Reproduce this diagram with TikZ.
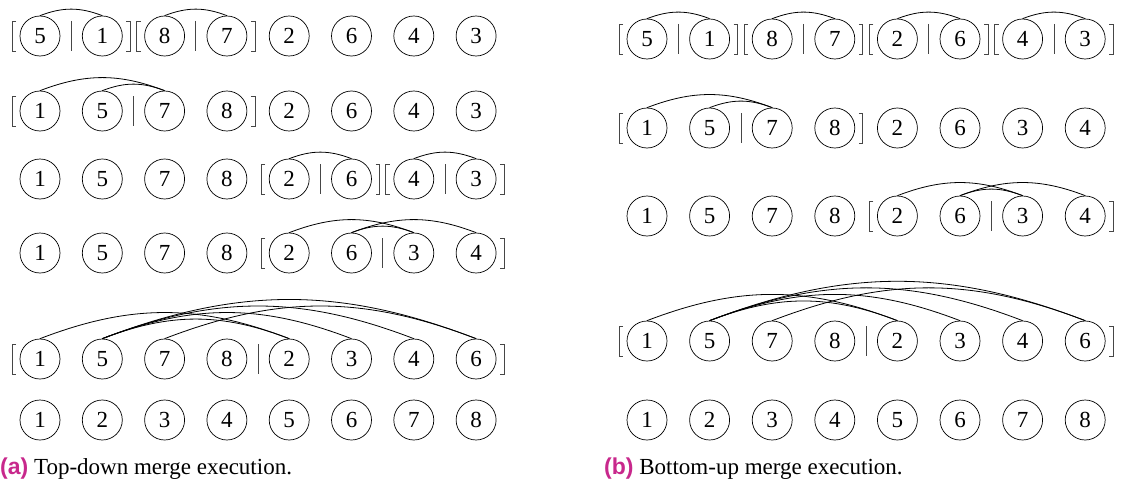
\documentclass[tikz,border=0pt]{standalone}
\usepackage{fontspec}
\setmainfont{Liberation Serif}
\setsansfont{Liberation Sans}
\usetikzlibrary{calc}
\definecolor{capmag}{RGB}{200,40,140}
\definecolor{brkgray}{RGB}{70,70,70}
\tikzset{
  cnode/.style={circle,draw,line width=0.7pt,minimum size=40pt,inner sep=0pt,font=\fontsize{23}{27}\selectfont},
  cmparc/.style={line width=0.8pt,bend left=21},
  brk/.style={draw=brkgray,line width=0.8pt},
  captext/.style={anchor=base west,inner sep=0pt,font=\fontsize{23}{27}\selectfont}
}
\newcommand\LBr[1]{\draw[brk] ($(#1.center)+(-24,-15)$) -- ++(-4,0) -- ++(0,30) -- ++(4,0);}
\newcommand\RBr[1]{\draw[brk] ($(#1.center)+(24,-15)$) -- ++(4,0) -- ++(0,30) -- ++(-4,0);}
\newcommand\Bar[2]{\draw[brk] ($(#1)!0.5!(#2)+(0,-15)$) -- ++(0,30);}
\newcommand\Row[5]{%
  \foreach \v [count=\i from 0] in {#5}
    \node[cnode] (#1-\i) at ({#2+#3*\i},#4) {\v};}
\begin{document}
\begin{tikzpicture}[x=1pt,y=-1pt]
\useasboundingbox (0,0) rectangle (1121,487);
% ---------- left panel ----------
\Row{La}{40}{62.3}{36}{5,1,8,7,2,6,4,3}
\Row{Lb}{40}{62.3}{111}{1,5,7,8,2,6,4,3}
\Row{Lc}{40}{62.3}{179}{1,5,7,8,2,6,4,3}
\Row{Ld}{40}{62.3}{253}{1,5,7,8,2,6,3,4}
\Row{Le}{40}{62.3}{359}{1,5,7,8,2,3,4,6}
\Row{Lf}{40}{62.3}{420}{1,2,3,4,5,6,7,8}
% row a
\LBr{La-0}\Bar{La-0}{La-1}\RBr{La-1}
\LBr{La-2}\Bar{La-2}{La-3}\RBr{La-3}
\draw[cmparc] (La-0.north) to (La-1.north);
\draw[cmparc] (La-2.north) to (La-3.north);
% row b
\LBr{Lb-0}\Bar{Lb-1}{Lb-2}\RBr{Lb-3}
\draw[cmparc] (Lb-0.north) to (Lb-2.north);
\draw[cmparc] (Lb-1.north) to (Lb-2.north);
% row c
\LBr{Lc-4}\Bar{Lc-4}{Lc-5}\RBr{Lc-5}
\LBr{Lc-6}\Bar{Lc-6}{Lc-7}\RBr{Lc-7}
\draw[cmparc] (Lc-4.north) to (Lc-5.north);
\draw[cmparc] (Lc-6.north) to (Lc-7.north);
% row d
\LBr{Ld-4}\Bar{Ld-5}{Ld-6}\RBr{Ld-7}
\draw[cmparc] (Ld-4.north) to (Ld-6.north);
\draw[cmparc] (Ld-5.north) to (Ld-6.north);
\draw[cmparc] (Ld-5.north) to (Ld-7.north);
% row e
\LBr{Le-0}\Bar{Le-3}{Le-4}\RBr{Le-7}
\draw[cmparc] (Le-0.north) to (Le-4.north);
\draw[cmparc] (Le-1.north) to (Le-4.north);
\draw[cmparc] (Le-1.north) to (Le-5.north);
\draw[cmparc] (Le-1.north) to (Le-6.north);
\draw[cmparc] (Le-1.north) to (Le-7.north);
\draw[cmparc] (Le-2.north) to (Le-7.north);
\node[captext] (capa) at (0,474) {\textcolor{capmag}{\sffamily\bfseries (a)} Top-down merge execution.};
% ---------- right panel ----------
\Row{Ra}{647}{62.6}{39}{5,1,8,7,2,6,4,3}
\Row{Rb}{647}{62.6}{128}{1,5,7,8,2,6,3,4}
\Row{Rc}{647}{62.6}{216}{1,5,7,8,2,6,3,4}
\Row{Rd}{647}{62.6}{341}{1,5,7,8,2,3,4,6}
\Row{Re}{647}{62.6}{420}{1,2,3,4,5,6,7,8}
% row a
\LBr{Ra-0}\Bar{Ra-0}{Ra-1}\RBr{Ra-1}
\LBr{Ra-2}\Bar{Ra-2}{Ra-3}\RBr{Ra-3}
\LBr{Ra-4}\Bar{Ra-4}{Ra-5}\RBr{Ra-5}
\LBr{Ra-6}\Bar{Ra-6}{Ra-7}\RBr{Ra-7}
\draw[cmparc] (Ra-0.north) to (Ra-1.north);
\draw[cmparc] (Ra-2.north) to (Ra-3.north);
\draw[cmparc] (Ra-4.north) to (Ra-5.north);
\draw[cmparc] (Ra-6.north) to (Ra-7.north);
% row b
\LBr{Rb-0}\Bar{Rb-1}{Rb-2}\RBr{Rb-3}
\draw[cmparc] (Rb-0.north) to (Rb-2.north);
\draw[cmparc] (Rb-1.north) to (Rb-2.north);
% row c
\LBr{Rc-4}\Bar{Rc-5}{Rc-6}\RBr{Rc-7}
\draw[cmparc] (Rc-4.north) to (Rc-6.north);
\draw[cmparc] (Rc-5.north) to (Rc-6.north);
\draw[cmparc] (Rc-5.north) to (Rc-7.north);
% row d
\LBr{Rd-0}\Bar{Rd-3}{Rd-4}\RBr{Rd-7}
\draw[cmparc] (Rd-0.north) to (Rd-4.north);
\draw[cmparc] (Rd-1.north) to (Rd-4.north);
\draw[cmparc] (Rd-1.north) to (Rd-5.north);
\draw[cmparc] (Rd-1.north) to (Rd-6.north);
\draw[cmparc] (Rd-1.north) to (Rd-7.north);
\draw[cmparc] (Rd-2.north) to (Rd-7.north);
\node[captext] (capb) at (604,474) {\textcolor{capmag}{\sffamily\bfseries (b)} Bottom-up merge execution.};
\end{tikzpicture}
\end{document}
